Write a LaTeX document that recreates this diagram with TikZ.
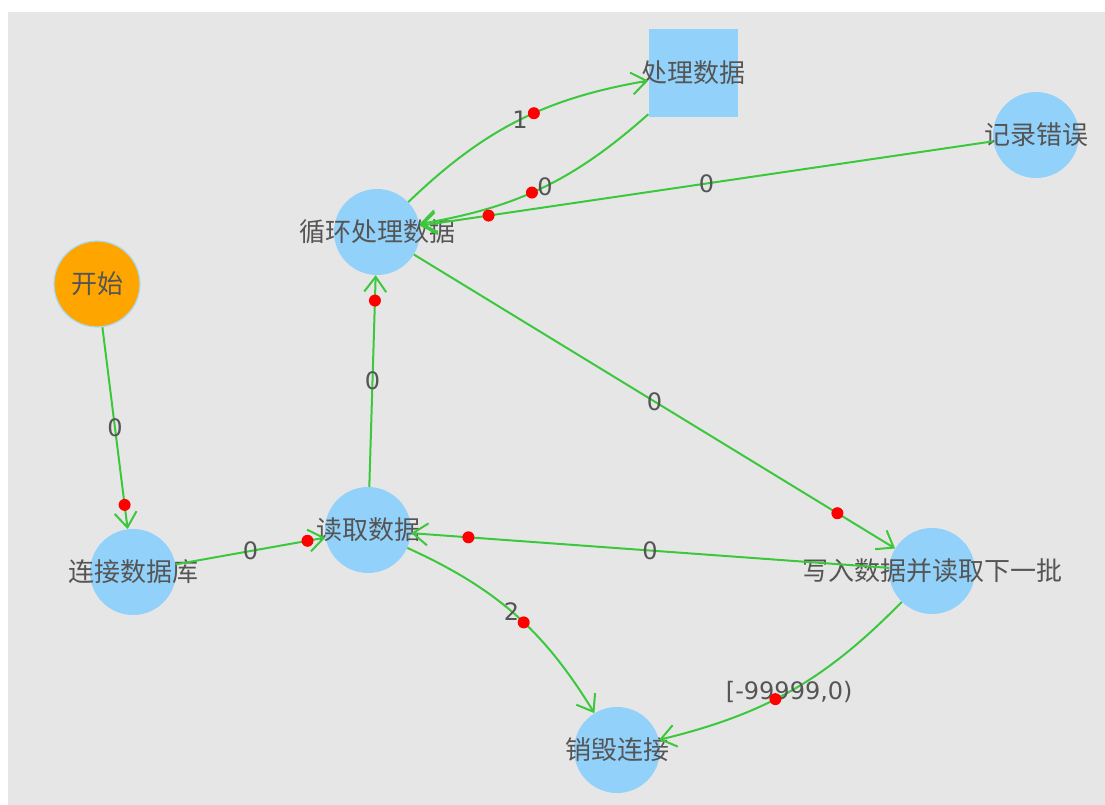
\documentclass[tikz,border=0pt]{standalone}
\usepackage{fontspec}
\setmainfont{Noto Sans CJK SC}
\newfontfamily\numfont{DejaVu Sans}
\usetikzlibrary{arrows.meta,positioning}
\definecolor{bggray}{HTML}{E6E6E6}
\definecolor{nodeblue}{HTML}{92D2FA}
\definecolor{startorange}{HTML}{FFA500}
\definecolor{edgegreen}{HTML}{3CC83C}
\definecolor{txtgray}{HTML}{555555}

\begin{document}
\begin{tikzpicture}[x=1pt,y=-1pt,
  >={Straight Barb[length=15pt,width=22pt]},
  state/.style={circle,fill=nodeblue,minimum size=86pt,inner sep=0pt},
  cjktext/.style={text=txtgray,font=\fontsize{26}{26}\selectfont,inner sep=0pt},
  flow/.style={->,draw=edgegreen,line width=2pt},
  reddot/.style={circle,fill=red,minimum size=12pt,inner sep=0pt},
  weight/.style={text=txtgray,font=\numfont\fontsize{24}{24}\selectfont,inner sep=0pt},
  ]
	\useasboundingbox (0,0) rectangle (1105,805) ;
	\fill [bggray] (8,12) rectangle (1105,805) ;
	% nodes
	\node [state,fill=startorange,draw=nodeblue!80,line width=1.2pt,label={[cjktext]center:开始}] (start) at (97,284) {} ;
	\node [state,label={[cjktext]center:连接数据库}] (connect) at (133,572) {} ;
	\node [state,label={[cjktext]center:读取数据}] (read) at (368,530) {} ;
	\node [state,label={[cjktext]center:循环处理数据}] (loop) at (377,232) {} ;
	\node [fill=nodeblue,minimum width=89pt,minimum height=88pt,inner sep=0pt,label={[cjktext]center:处理数据}] (process) at (693,73) {} ;
	\node [state,label={[cjktext]center:记录错误}] (logerr) at (1036,135) {} ;
	\node [state,label={[cjktext]center:写入数据并读取下一批}] (write) at (932,571) {} ;
	\node [state,label={[cjktext]center:销毁连接}] (destroy) at (617,750) {} ;
	% edges
	\draw [flow] (start) -- node[weight]{0} node[pos=.88,reddot]{} (connect) ;
	\draw [flow] (connect) -- node[weight]{0} node[pos=.88,reddot]{} (read) ;
	\draw [flow] (read) -- node[weight]{0} node[pos=.88,reddot]{} (loop) ;
	\draw [flow] (loop) to[bend left=17] node[pos=.51,weight]{1} node[pos=.57,reddot]{} (process) ;
	\draw [flow] (process) to[bend left=16] node[pos=.49,weight]{0} node[pos=.55,reddot]{} (loop) ;
	\draw [flow] (logerr) -- node[weight]{0} node[pos=.88,reddot]{} (loop) ;
	\draw [flow] (loop) -- node[weight]{0} node[pos=.88,reddot]{} (write) ;
	\draw [flow] (write) -- node[weight]{0} node[pos=.88,reddot]{} (read) ;
	\draw [flow] (read) to[bend left=17] node[pos=.48,weight]{2} node[pos=.55,reddot]{} (destroy) ;
	\draw [flow] (write) to[bend left=16] node[pos=.51,weight]{[-99999,0)} node[pos=.57,reddot]{} (destroy) ;
\end{tikzpicture}
\end{document}
